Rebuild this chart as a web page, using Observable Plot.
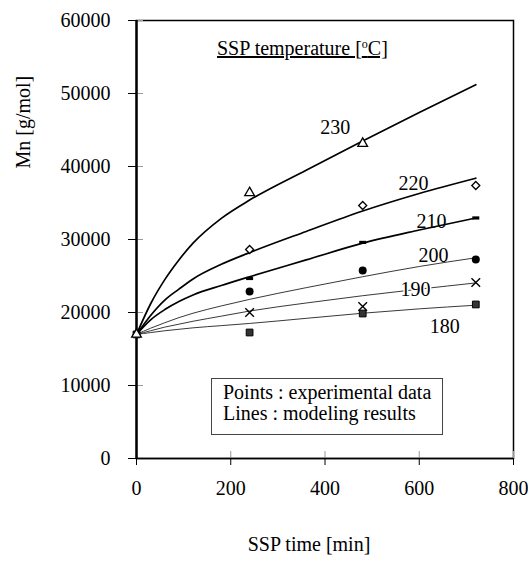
<!DOCTYPE html>
<html>
<head>
<meta charset="utf-8">
<script src="https://cdn.jsdelivr.net/npm/d3@7"></script>
<script src="https://cdn.jsdelivr.net/npm/@observablehq/plot@0.6"></script>
<style>
  body { margin: 0; background: #fff; }
  #wrap { position: relative; width: 528px; height: 563px; font-family: "Liberation Serif", "Times New Roman", serif; color: #000; }
  #title { position: absolute; left: 217px; top: 38px; font-size: 20px; line-height: 20px; text-decoration: underline; white-space: nowrap; }
  #title sup { font-size: 12px; vertical-align: 7px; line-height: 0; }
  #note { position: absolute; left: 211px; top: 378px; width: 232px; height: 57px; box-sizing: border-box; border: 1px solid #444; padding: 3px 0 0 11px; font-size: 20px; line-height: 21px; white-space: nowrap; background: #fff; }
</style>
</head>
<body>
<div id="wrap">
  <div id="chart"></div>
  <div id="title">SSP temperature [<sup>o</sup>C]</div>
  <div id="note">Points : experimental data<br>Lines : modeling results</div>
</div>
<script>
// ---- data ----
const seriesNames = ["230", "220", "210", "200", "190", "180"];

// modeling results (lines)
const modelTimes = [0, 30, 60, 90, 120, 180, 240, 360, 480, 600, 720];
const model230 = [17000, 21200, 24500, 27200, 29500, 32900, 35400, 39500, 43500, 47400, 51200];
const model220 = [17000, 19600, 21700, 23200, 24600, 26600, 28200, 31100, 33900, 36300, 38400];
const model210 = [17000, 19000, 20400, 21500, 22400, 23700, 24900, 27200, 29500, 31300, 32950];
const model200 = [17000, 17850, 18600, 19300, 19900, 20900, 21800, 23400, 24900, 26300, 27500];
const model190 = [17000, 17500, 18000, 18400, 18800, 19500, 20200, 21300, 22300, 23200, 24050];
const model180 = [17000, 17250, 17500, 17700, 17900, 18200, 18500, 19200, 19900, 20500, 21000];

// experimental data (points)
const expTimes = [0, 240, 480, 720];
const exp230 = [17000, 36400, 43150, null];
const exp220 = [null, 28630, 34660, 37400];
const exp210 = [null, 24660, 29600, 32950];
const exp200 = [null, 22880, 25750, 27260];
const exp190 = [null, 20000, 20820, 24110];
const exp180 = [17000, 17260, 19860, 21100];

// curve labels (anchor in data units)
const labelX = [422, 588, 626, 630, 592, 654];
const labelY = [45340, 37670, 32470, 27810, 23150, 18080];

// axes
const xTicks = [0, 200, 400, 600, 800];
const yTicks = [0, 10000, 20000, 30000, 40000, 50000, 60000];

// ---- build tables ----
const modelSets = [model230, model220, model210, model200, model190, model180];
const expSets = [exp230, exp220, exp210, exp200, exp190, exp180];
const modelRows = [];
seriesNames.forEach((s, i) => modelTimes.forEach((t, j) => modelRows.push({series: s, t, mn: modelSets[i][j]})));
const expRows = [];
seriesNames.forEach((s, i) => expTimes.forEach((t, j) => {
  if (expSets[i][j] != null) expRows.push({series: s, t, mn: expSets[i][j]});
}));
const labelRows = seriesNames.map((s, i) => ({series: s, x: labelX[i], y: labelY[i]}));

const thick = new Set(["230", "220", "210"]);
const pts = s => expRows.filter(d => d.series === s);
const dashSymbol = {draw(context, size) { context.rect(-3.5, -1.6, 7, 3.2); }};
const fmt = d3.format("d");

const chart = Plot.plot({
  width: 528,
  height: 563,
  marginLeft: 136,
  marginRight: 15,
  marginTop: 20,
  marginBottom: 105,
  style: {fontFamily: "'Liberation Serif', 'Times New Roman', serif", fontSize: "20px", background: "white", color: "black"},
  x: {domain: [0, 800]},
  y: {domain: [0, 60000]},
  marks: [
    Plot.frame({stroke: "black", strokeWidth: 1.5}),
    Plot.axisY({ticks: yTicks, tickFormat: fmt, tickSize: 8, tickPadding: 18, label: null, fontSize: 20, strokeWidth: 1}),
    Plot.axisY({ticks: yTicks, tickSize: -7, tickFormat: () => "", label: null, stroke: "#999", strokeWidth: 1}),
    Plot.axisX({ticks: xTicks, tickFormat: fmt, tickSize: 7, tickPadding: 15, label: null, fontSize: 20, strokeWidth: 1}),
    Plot.axisX({ticks: xTicks, tickSize: -7, tickFormat: () => "", label: null, stroke: "#999", strokeWidth: 1}),
    Plot.ruleX([0], {stroke: "black", strokeWidth: 2.4}),
    Plot.ruleY([0], {stroke: "black", strokeWidth: 1.6}),
    Plot.line(modelRows.filter(d => !thick.has(d.series)), {x: "t", y: "mn", z: "series", curve: "monotone-x", stroke: "#222", strokeWidth: 0.9}),
    Plot.line(modelRows.filter(d => thick.has(d.series)), {x: "t", y: "mn", z: "series", curve: "monotone-x", stroke: "black", strokeWidth: 1.7}),
    // 180: filled squares
    Plot.dot(pts("180"), {x: "t", y: "mn", symbol: "square", r: 3.8, fill: "#333", stroke: "black", strokeWidth: 1}),
    // 230: open triangles
    Plot.dot(pts("230"), {x: "t", y: "mn", symbol: "triangle", r: 3.6, fill: "white", stroke: "black", strokeWidth: 1.3}),
    // 220: open diamonds
    Plot.dot(pts("220"), {x: "t", y: "mn", symbol: "diamond2", r: 3.6, fill: "white", stroke: "black", strokeWidth: 1.3}),
    // 210: small filled dashes
    Plot.dot(pts("210"), {x: "t", y: "mn", symbol: dashSymbol, r: 3, fill: "black", stroke: "none"}),
    // 200: filled circles
    Plot.dot(pts("200"), {x: "t", y: "mn", symbol: "circle", r: 4, fill: "black", stroke: "none"}),
    // 190: crosses
    Plot.dot(pts("190"), {x: "t", y: "mn", symbol: "times", r: 4, stroke: "black", strokeWidth: 1.4}),
    // curve labels
    Plot.text(labelRows.filter(d => d.series !== "190"), {x: "x", y: "y", text: "series", fontSize: 20, fill: "black"}),
    Plot.text(labelRows.filter(d => d.series === "190"), {x: "x", y: "y", text: "series", fontSize: 20, fill: "black", stroke: "white", strokeWidth: 3}),
    // axis titles
    Plot.text(["SSP time [min]"], {frameAnchor: "bottom", dx: -16, dy: 92, fontSize: 20, fill: "black"}),
    Plot.text(["Mn [g/mol]"], {frameAnchor: "left", rotate: -90, dx: -113, dy: -71, fontSize: 20, fill: "black"})
  ]
});
document.getElementById("chart").appendChild(chart);
</script>
</body>
</html>
